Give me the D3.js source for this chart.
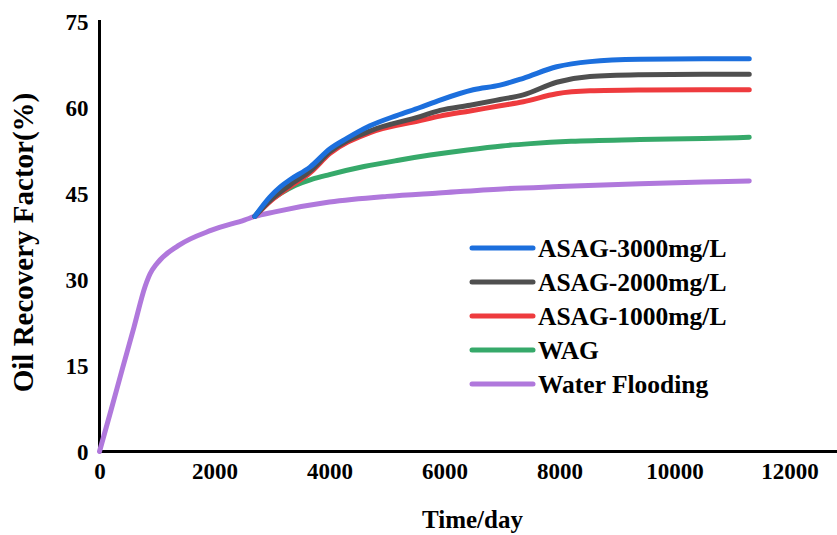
<!DOCTYPE html>
<html>
<head>
<meta charset="utf-8">
<script src="https://cdn.jsdelivr.net/npm/d3@7"></script>
<style>
  html, body { margin: 0; padding: 0; background: #fff; }
  svg text { font-family: "Liberation Serif", "Times New Roman", serif; font-weight: bold; fill: #000; }
</style>
</head>
<body>
<svg id="chart" width="837" height="535"></svg>
<script>
// Oil recovery factor (%) versus production time (days)
const xTicks = [0, 2000, 4000, 6000, 8000, 10000, 12000];
const yTicks = [0, 15, 30, 45, 60, 75];

const seriesNames = ["ASAG-3000mg/L", "ASAG-2000mg/L", "ASAG-1000mg/L", "WAG", "Water Flooding"];
const seriesColors = ["#1c6fdd", "#4f4f4f", "#ee3b3e", "#36a96a", "#b078dc"];

const waterFlooding = [
  [0, 0], [200, 7.2], [400, 14.5], [600, 21.7], [790, 28.7], [880, 31.0], [1000, 32.8],
  [1370, 35.9], [1950, 38.6], [2530, 40.4], [2700, 41.0], [3050, 41.8], [4000, 43.5],
  [5000, 44.5], [5900, 45.1], [7000, 45.8], [8000, 46.2], [9400, 46.7], [10500, 47.0],
  [11300, 47.2]
];
const wag = [
  [2700, 41.0], [2900, 43.2], [3150, 45.0], [3400, 46.4], [3700, 47.5], [4000, 48.3],
  [4600, 49.7], [5200, 50.8], [5750, 51.7], [6400, 52.6], [7000, 53.3], [7500, 53.7],
  [8200, 54.1], [9400, 54.4], [10500, 54.6], [11300, 54.8]
];
const asag1000 = [
  [2700, 41.0], [3000, 43.9], [3313, 46.2], [3661, 48.6], [4009, 52.0], [4704, 55.6],
  [5574, 57.7], [5922, 58.5], [6443, 59.4], [6965, 60.3], [7370, 61.0], [7951, 62.4],
  [8530, 62.9], [9400, 63.05], [10500, 63.1], [11300, 63.1]
];
const asag2000 = [
  [2700, 41.0], [3000, 44.1], [3313, 46.5], [3661, 48.9], [4009, 52.3], [4704, 55.9],
  [5574, 58.4], [5922, 59.5], [6443, 60.4], [6965, 61.4], [7370, 62.2], [7951, 64.4],
  [8530, 65.4], [9400, 65.7], [10500, 65.8], [11300, 65.8]
];
const asag3000 = [
  [2700, 41.0], [2965, 44.4], [3150, 46.2], [3313, 47.4], [3661, 49.6], [4009, 52.8],
  [4300, 54.6], [4704, 56.8], [5168, 58.6], [5574, 60.0], [5922, 61.3], [6500, 63.1],
  [6965, 63.9], [7370, 65.1], [7950, 67.1], [8530, 68.0], [9400, 68.4], [10500, 68.5],
  [11300, 68.5]
];
const seriesData = [asag3000, asag2000, asag1000, wag, waterFlooding];

const svg = d3.select("#chart");
const x = d3.scaleLinear().domain([0, 12000]).range([99.5, 789.5]);
const y = d3.scaleLinear().domain([0, 75]).range([451.5, 21.5]);

// y axis
const yAxis = svg.append("g").attr("transform", `translate(${x(0)},0)`)
  .call(d3.axisLeft(y).tickValues(yTicks).tickSize(0).tickPadding(11).tickFormat(d3.format("d")));
yAxis.select(".domain").attr("stroke", "#000").attr("stroke-width", 3).attr("d", `M0,${y(0)}V${y(75) - 1.5}`);
yAxis.selectAll("text").attr("font-size", 23).attr("dy", "0.35em");

// x axis, extending past the last tick to the edge
const xAxis = svg.append("g").attr("transform", `translate(0,${y(0)})`)
  .call(d3.axisBottom(x).tickValues(xTicks).tickSize(0).tickPadding(11).tickFormat(d3.format("d")));
xAxis.select(".domain").attr("stroke", "#000").attr("stroke-width", 3).attr("d", `M${x(0) - 1.5},0H837`);
xAxis.selectAll("text").attr("font-size", 23).attr("dy", "0.71em");

// axis titles
svg.append("text").attr("x", 472.5).attr("y", 528).attr("text-anchor", "middle")
  .attr("font-size", 25).text("Time/day");
svg.append("text").attr("transform", `translate(33,242.5) rotate(-90)`)
  .attr("text-anchor", "middle").attr("font-size", 29).text("Oil Recovery Factor(%)");

// curves
const line = d3.line().x(d => x(d[0])).y(d => y(d[1])).curve(d3.curveMonotoneX);
const order = [4, 3, 2, 1, 0];
order.forEach(i => {
  svg.append("path").datum(seriesData[i])
    .attr("fill", "none").attr("stroke", seriesColors[i]).attr("stroke-width", 5)
    .attr("stroke-linecap", "round").attr("stroke-linejoin", "round")
    .attr("d", line);
});

// legend
const legend = svg.append("g").attr("transform", "translate(472,248)");
seriesNames.forEach((name, i) => {
  const g = legend.append("g").attr("transform", `translate(0,${i * 34})`);
  g.append("line").attr("x1", 0).attr("x2", 61).attr("y1", 0).attr("y2", 0)
    .attr("stroke", seriesColors[i]).attr("stroke-width", 5).attr("stroke-linecap", "round");
  g.append("text").attr("x", 66).attr("y", 0).attr("dy", "0.35em").attr("font-size", 25.5).text(name);
});
</script>
</body>
</html>
